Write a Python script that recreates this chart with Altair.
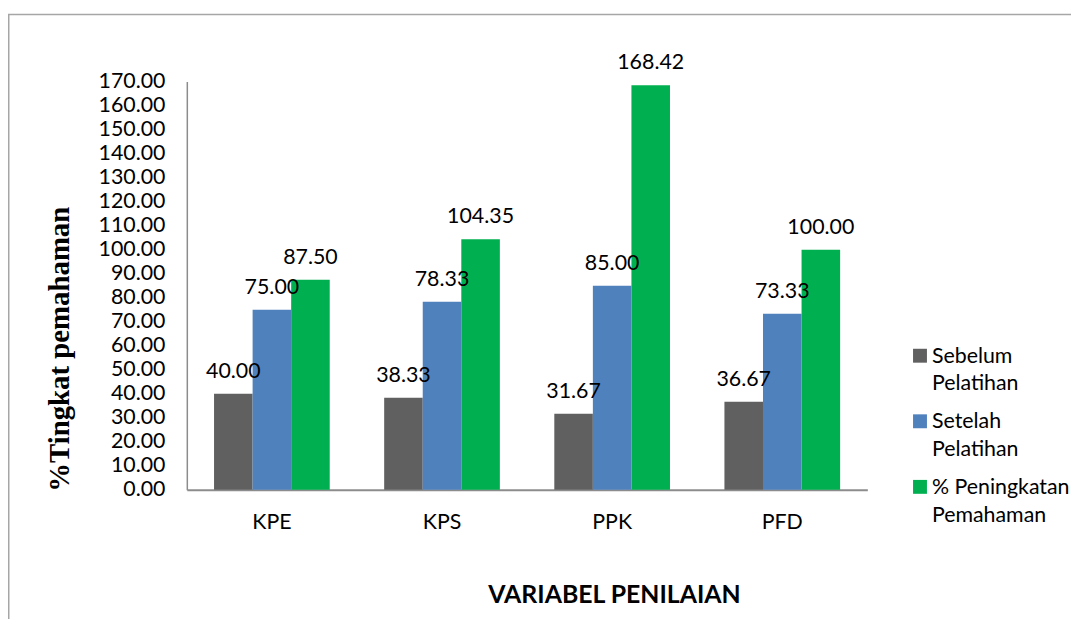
import altair as alt
import pandas as pd

categories = ["KPE", "KPS", "PPK", "PFD"]
series_names = ["Sebelum Pelatihan", "Setelah Pelatihan", "% Peningkatan Pemahaman"]
sebelum = [40.00, 38.33, 31.67, 36.67]
setelah = [75.00, 78.33, 85.00, 73.33]
peningkatan = [87.50, 104.35, 168.42, 100.00]
y_ticks = [0, 10, 20, 30, 40, 50, 60, 70, 80, 90, 100, 110, 120, 130, 140, 150, 160, 170]
colors = ["#606060", "#4f81bd", "#00b050"]

rows = []
for s, vals in zip(series_names, [sebelum, setelah, peningkatan]):
    for c, v in zip(categories, vals):
        rows.append({"kategori": c, "seri": s, "nilai": v})
df = pd.DataFrame(rows)

legend_df = pd.DataFrame(
    {"seri": series_names, "teks": ["\n".join(s.rsplit(" ", 1)) for s in series_names]}
)

FONT = "Lato"
FS = 21.5
Y_DOMAIN = [0, 170]

color_scale = alt.Scale(domain=series_names, range=colors)
offset_enc = alt.XOffset("seri:N", sort=series_names, scale=alt.Scale(domain=series_names))

x_enc = alt.X(
    "kategori:N",
    sort=categories,
    scale=alt.Scale(paddingInner=0.32, paddingOuter=0.16),
    axis=alt.Axis(
        title="VARIABEL PENILAIAN",
        labelAngle=0,
        ticks=False,
        labelPadding=22,
        labelFont=FONT,
        labelFontSize=FS,
        labelColor="#000000",
        domainColor="#8c8c8c",
        domainWidth=2,
        titleFont=FONT,
        titleFontSize=25,
        titleFontWeight="bold",
        titleColor="#000000",
        titleX=430,
        titleY=113,
        titleBaseline="alphabetic",
        titleAlign="center",
    ),
)
y_enc = alt.Y(
    "nilai:Q",
    scale=alt.Scale(domain=Y_DOMAIN, nice=False),
    axis=alt.Axis(
        title="%Tingkat pemahaman",
        values=y_ticks,
        format=".2f",
        ticks=False,
        grid=False,
        labelOverlap=False,
        labelPadding=22,
        labelFont=FONT,
        labelFontSize=FS,
        labelColor="#000000",
        domainColor="#8c8c8c",
        domainWidth=1.5,
        titleFont="Liberation Serif",
        titleFontSize=29,
        titleFontWeight="bold",
        titleColor="#000000",
        titleAngle=-90,
        titleX=-119,
        titleY=269,
        titleAlign="center",
        titleBaseline="alphabetic",
    ),
)

frame = alt.Chart(alt.Data(values=[{"a": 1}])).mark_rect(
    fill="white", fillOpacity=0, stroke="#a6a6a6", strokeWidth=1.5
).encode(
    x=alt.value(-179.25), x2=alt.value(1000), y=alt.value(-67.5), y2=alt.value(700)
)

base = alt.Chart(df)
bars = base.mark_bar().encode(
    x=x_enc,
    xOffset=offset_enc,
    y=y_enc,
    color=alt.Color("seri:N", sort=series_names, scale=color_scale, legend=None),
)
labels = base.mark_text(
    font=FONT, fontSize=FS, color="#000000", baseline="alphabetic", dy=-16
).encode(
    x=alt.X("kategori:N", sort=categories),
    xOffset=offset_enc,
    y=alt.Y("nilai:Q", scale=alt.Scale(domain=Y_DOMAIN, nice=False), axis=None),
    text=alt.Text("nilai:Q", format=".2f"),
)

legend_y = alt.Y(
    "seri:N",
    scale=alt.Scale(type="point", domain=series_names, range=[276, 408], padding=0),
    axis=None,
)
leg_sym = alt.Chart(legend_df).mark_square(size=196, opacity=1).encode(
    x=alt.value(738),
    y=legend_y,
    color=alt.Color("seri:N", scale=color_scale, legend=None),
)
leg_txt = alt.Chart(legend_df).mark_text(
    align="left", baseline="alphabetic", dy=7, lineBreak="\n", lineHeight=28,
    font=FONT, fontSize=FS, color="#000000",
).encode(
    x=alt.value(750),
    y=legend_y,
    text="teks:N",
)

chart = alt.layer(frame, bars, labels, leg_sym, leg_txt).resolve_scale(
    y="independent"
).properties(
    width=685,
    height=411,
    autosize=alt.AutoSizeParams(type="none"),
    padding={"left": 180, "top": 72, "right": 205, "bottom": 128},
    background="white",
).configure_view(stroke=None)

chart.save("out.html", embed_options={"renderer": "svg", "actions": False})
